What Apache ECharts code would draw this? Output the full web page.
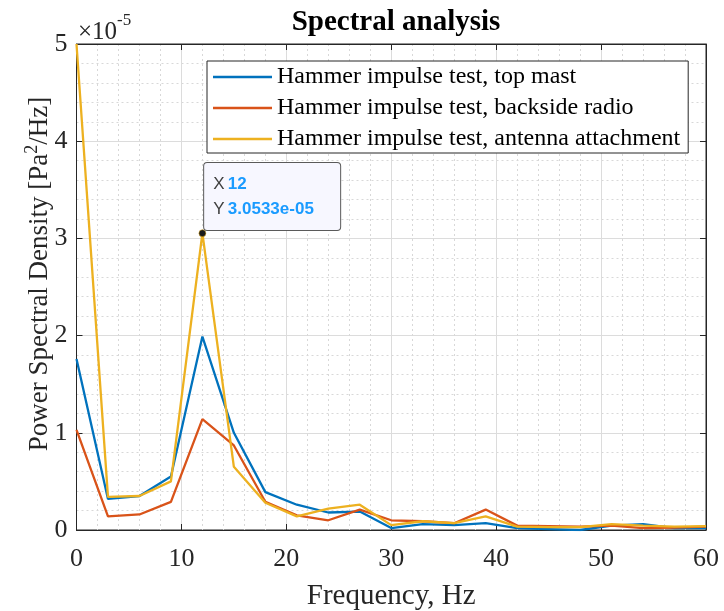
<!DOCTYPE html>
<html>
<head>
<meta charset="utf-8">
<script src="https://cdn.jsdelivr.net/npm/echarts@6/dist/echarts.min.js"></script>
<style>
html,body{margin:0;padding:0;background:#fff;}
#chart{width:724px;height:611px;}
</style>
</head>
<body>
<div id="chart"></div>
<script>
// Frequency bins (Hz)
const freqs = [0,3,6,9,12,15,18,21,24,27,30,33,36,39,42,45,48,51,54,57,60];
// PSD values in units of 1e-5 Pa^2/Hz
const topMast   = [1.76,0.32,0.35,0.55,1.99,1.00,0.39,0.26,0.18,0.19,0.02,0.06,0.05,0.07,0.02,0.01,0.00,0.045,0.06,0.02,0.02];
const backside  = [1.03,0.14,0.16,0.29,1.14,0.87,0.29,0.15,0.10,0.21,0.10,0.09,0.07,0.21,0.045,0.04,0.035,0.045,0.02,0.025,0.035];
const antenna   = [5.00,0.34,0.35,0.50,3.0533,0.65,0.28,0.14,0.22,0.26,0.05,0.09,0.07,0.14,0.035,0.03,0.03,0.06,0.045,0.035,0.04];
const seriesNames = ['Hammer impulse test, top mast','Hammer impulse test, backside radio','Hammer impulse test, antenna attachment'];
const colors = ['#0072BD','#D95319','#EDB120'];
const xTicks = [0,10,20,30,40,50,60];
const yTicks = [0,1,2,3,4,5];
const tipX = 12, tipY = 3.0533;
const tipYText = '3.0533e-05';

const serif = '"Liberation Serif","Times New Roman",serif';
const sans = '"Liberation Sans",Arial,sans-serif';
const textCol = '#262626';

function pairs(arr){ return freqs.map((f,i)=>[f,arr[i]]); }

const chart = echarts.init(document.getElementById('chart'), null, {renderer:'canvas'});

const baseX = {
  type:'value', min:xTicks[0], max:xTicks[xTicks.length-1], interval:10,
  axisLine:{show:true,onZero:false,lineStyle:{color:textCol,width:1}},
  axisTick:{show:true,inside:true,length:6,lineStyle:{color:textCol}},
};
const baseY = {
  type:'value', min:yTicks[0], max:yTicks[yTicks.length-1], interval:1,
  axisLine:{show:true,onZero:false,lineStyle:{color:textCol,width:1}},
  axisTick:{show:true,inside:true,length:6,lineStyle:{color:textCol}},
};

const data = [topMast, backside, antenna];
const series = data.map((arr,i)=>({
  name:seriesNames[i], type:'line', data:pairs(arr),
  showSymbol:false, symbol:'none',
  lineStyle:{color:colors[i],width:2.3},
  itemStyle:{color:colors[i]},
  z:2+i
}));
series[2].markPoint = {
  symbol:'circle', symbolSize:7, silent:true,
  itemStyle:{color:'#1a1a1a',borderColor:'#EDB120',borderWidth:0.5},
  data:[{coord:[tipX,tipY], value:tipY}],
  label:{
    show:true, position:[5.5,-66.5],
    formatter:'{k|X} {v|'+tipX+'}\n{k|Y} {v|'+tipYText+'}',
    backgroundColor:'#f7f7ff', borderColor:'#5a5a5a', borderWidth:1, borderRadius:3,
    padding:[9,10,8,9], width:117,
    rich:{
      k:{fontFamily:sans,fontSize:17,color:'#404040',lineHeight:25},
      v:{fontFamily:sans,fontSize:17,color:'#1a9bff',fontWeight:'bold',lineHeight:25}
    }
  }
};

chart.setOption({
  animation:false,
  backgroundColor:'#fff',
  title:{
    text:'Spectral analysis', left:391, textAlign:'center', top:3,
    textStyle:{fontFamily:serif,fontSize:29,fontWeight:'bold',color:'#000'}
  },
  grid:{left:76.5,right:18,top:44,bottom:81,show:true,borderColor:textCol,borderWidth:1,backgroundColor:'#fff',
        containLabel:false, outerBoundsMode:'none'},
  legend:{
    orient:'vertical', left:207, top:61,
    data:seriesNames,
    icon:'rect', itemWidth:59, itemHeight:2.5, itemGap:5,
    padding:[3,8,1,6],
    backgroundColor:'#fff', borderColor:textCol, borderWidth:1,
    textStyle:{fontFamily:serif,fontSize:24,color:'#000',lineHeight:26},
    selectedMode:false
  },
  xAxis:[
    Object.assign({}, baseX, {
      position:'bottom',
      name:'Frequency, Hz', nameLocation:'middle', nameGap:52,
      nameTextStyle:{fontFamily:serif,fontSize:29,color:textCol},
      axisLabel:{show:true,margin:16,fontFamily:serif,fontSize:26,color:textCol},
      splitLine:{show:true,lineStyle:{color:'#dcdcdc',width:1}},
      minorTick:{show:false,splitNumber:5},
      minorSplitLine:{show:true,lineStyle:{color:'#d8d8d8',width:1,type:[2,3]}}
    }),
    Object.assign({}, baseX, {
      position:'top', axisLabel:{show:false}, splitLine:{show:false}
    })
  ],
  yAxis:[
    Object.assign({}, baseY, {
      position:'left',
      name:'{a|Power Spectral Density [Pa}{s|2}{a|/Hz]}', nameLocation:'middle', nameGap:21,
      nameMoveOverlap:false,
      nameTextStyle:{
        fontFamily:serif,fontSize:27,color:textCol,padding:[0,0,0,26],
        rich:{a:{fontFamily:serif,fontSize:27,color:textCol},
              s:{fontFamily:serif,fontSize:18,color:textCol,verticalAlign:'top',padding:[0,0,14,0]}}
      },
      axisLabel:{show:true,margin:9,fontFamily:serif,fontSize:26,color:textCol,formatter:v=>String(v)},
      splitLine:{show:true,lineStyle:{color:'#dcdcdc',width:1}},
      minorTick:{show:false,splitNumber:5},
      minorSplitLine:{show:true,lineStyle:{color:'#d8d8d8',width:1,type:[2,3]}}
    }),
    Object.assign({}, baseY, {
      position:'right', axisLabel:{show:false}, splitLine:{show:false}
    })
  ],
  graphic:[{
    type:'text', left:78, top:12, silent:true,
    style:{
      text:'{a|×10}{s|-5}',
      rich:{a:{fontFamily:serif,fontSize:25,fill:textCol,padding:[8,0,0,0]},
            s:{fontFamily:serif,fontSize:17,fill:textCol,verticalAlign:'top'}}
    }
  }],
  series:series
});
</script>
</body>
</html>
